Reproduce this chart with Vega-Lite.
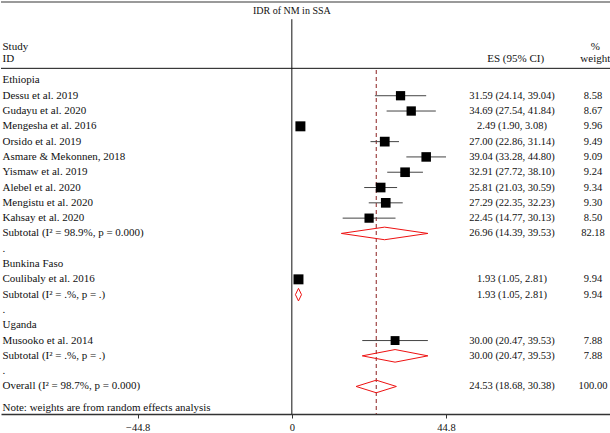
{
  "$schema": "https://vega.github.io/schema/vega-lite/v6.json",
  "width": 610,
  "height": 413,
  "autosize": {"type": "pad"},
  "padding": 0,
  "background": "white",
  "config": {
    "view": {"stroke": null},
    "font": "Liberation Serif",
    "text": {"font": "Liberation Serif", "color": "#111", "baseline": "middle"},
    "axisX": {"grid": false, "domainColor": "#333", "domainWidth": 1.5, "tickColor": "#333", "tickSize": 4, "labelFont": "Liberation Serif", "labelFontSize": 10.5, "labelColor": "#111", "labelPadding": 4, "labelFlush": false, "labelOverlap": false, "labelExpr": "datum.value == 0 ? '0' : format(datum.value, '.1f')"}
  },
  "datasets": {
    "rows": [
      {"row": 0, "label": "Ethiopia", "kind": "group"},
      {"row": 1, "label": "Dessu et al. 2019", "kind": "study", "est": 31.59, "lo": 24.14, "hi": 39.04, "weight": 8.58, "ci": "31.59 (24.14, 39.04)"},
      {"row": 2, "label": "Gudayu et al. 2020", "kind": "study", "est": 34.69, "lo": 27.54, "hi": 41.84, "weight": 8.67, "ci": "34.69 (27.54, 41.84)"},
      {"row": 3, "label": "Mengesha et al. 2016", "kind": "study", "est": 2.49, "lo": 1.90, "hi": 3.08, "weight": 9.96, "ci": "2.49 (1.90, 3.08)"},
      {"row": 4, "label": "Orsido et al. 2019", "kind": "study", "est": 27.00, "lo": 22.86, "hi": 31.14, "weight": 9.49, "ci": "27.00 (22.86, 31.14)"},
      {"row": 5, "label": "Asmare & Mekonnen, 2018", "kind": "study", "est": 39.04, "lo": 33.28, "hi": 44.80, "weight": 9.09, "ci": "39.04 (33.28, 44.80)"},
      {"row": 6, "label": "Yismaw et al. 2019", "kind": "study", "est": 32.91, "lo": 27.72, "hi": 38.10, "weight": 9.24, "ci": "32.91 (27.72, 38.10)"},
      {"row": 7, "label": "Alebel et al. 2020", "kind": "study", "est": 25.81, "lo": 21.03, "hi": 30.59, "weight": 9.34, "ci": "25.81 (21.03, 30.59)"},
      {"row": 8, "label": "Mengistu et al. 2020", "kind": "study", "est": 27.29, "lo": 22.35, "hi": 32.23, "weight": 9.30, "ci": "27.29 (22.35, 32.23)"},
      {"row": 9, "label": "Kahsay et al. 2020", "kind": "study", "est": 22.45, "lo": 14.77, "hi": 30.13, "weight": 8.50, "ci": "22.45 (14.77, 30.13)"},
      {"row": 10, "label": "Subtotal (I² = 98.9%, p = 0.000)", "kind": "subtotal", "est": 26.96, "lo": 14.39, "hi": 39.53, "weight": 82.18, "ci": "26.96 (14.39, 39.53)"},
      {"row": 11, "label": ".", "kind": "sep"},
      {"row": 12, "label": "Bunkina Faso", "kind": "group"},
      {"row": 13, "label": "Coulibaly et al. 2016", "kind": "study", "est": 1.93, "lo": 1.05, "hi": 2.81, "weight": 9.94, "ci": "1.93 (1.05, 2.81)"},
      {"row": 14, "label": "Subtotal (I² = .%, p = .)", "kind": "subtotal", "est": 1.93, "lo": 1.05, "hi": 2.81, "weight": 9.94, "ci": "1.93 (1.05, 2.81)"},
      {"row": 15, "label": ".", "kind": "sep"},
      {"row": 16, "label": "Uganda", "kind": "group"},
      {"row": 17, "label": "Musooko et al. 2014", "kind": "study", "est": 30.00, "lo": 20.47, "hi": 39.53, "weight": 7.88, "ci": "30.00 (20.47, 39.53)"},
      {"row": 18, "label": "Subtotal (I² = .%, p = .)", "kind": "subtotal", "est": 30.00, "lo": 20.47, "hi": 39.53, "weight": 7.88, "ci": "30.00 (20.47, 39.53)"},
      {"row": 19, "label": ".", "kind": "sep"},
      {"row": 20, "label": "Overall (I² = 98.7%, p = 0.000)", "kind": "overall", "est": 24.53, "lo": 18.68, "hi": 30.38, "weight": 100.00, "ci": "24.53 (18.68, 30.38)"},
      {"row": 21, "label": "Note: weights are from random effects analysis", "kind": "note"}
    ],
    "diamonds": [
      {"grp": "eth", "row": 10, "ord": 1, "x": 14.39, "vpos": "m"},
      {"grp": "eth", "row": 10, "ord": 2, "x": 26.96, "vpos": "t"},
      {"grp": "eth", "row": 10, "ord": 3, "x": 39.53, "vpos": "m"},
      {"grp": "eth", "row": 10, "ord": 4, "x": 26.96, "vpos": "b"},
      {"grp": "eth", "row": 10, "ord": 5, "x": 14.39, "vpos": "m"},
      {"grp": "bf", "row": 14, "ord": 1, "x": 1.05, "vpos": "m"},
      {"grp": "bf", "row": 14, "ord": 2, "x": 1.93, "vpos": "t"},
      {"grp": "bf", "row": 14, "ord": 3, "x": 2.81, "vpos": "m"},
      {"grp": "bf", "row": 14, "ord": 4, "x": 1.93, "vpos": "b"},
      {"grp": "bf", "row": 14, "ord": 5, "x": 1.05, "vpos": "m"},
      {"grp": "ug", "row": 18, "ord": 1, "x": 20.47, "vpos": "m"},
      {"grp": "ug", "row": 18, "ord": 2, "x": 30.00, "vpos": "t"},
      {"grp": "ug", "row": 18, "ord": 3, "x": 39.53, "vpos": "m"},
      {"grp": "ug", "row": 18, "ord": 4, "x": 30.00, "vpos": "b"},
      {"grp": "ug", "row": 18, "ord": 5, "x": 20.47, "vpos": "m"},
      {"grp": "all", "row": 20, "ord": 1, "x": 18.68, "vpos": "m"},
      {"grp": "all", "row": 20, "ord": 2, "x": 24.53, "vpos": "t"},
      {"grp": "all", "row": 20, "ord": 3, "x": 30.38, "vpos": "m"},
      {"grp": "all", "row": 20, "ord": 4, "x": 24.53, "vpos": "b"},
      {"grp": "all", "row": 20, "ord": 5, "x": 18.68, "vpos": "m"}
    ],
    "headers": [
      {"row": -4, "text": "IDR of NM in SSA", "col": "title"},
      {"row": -2, "text": "Study", "col": "left"},
      {"row": -1, "text": "ID", "col": "left"},
      {"row": -1, "text": "ES (95% CI)", "col": "es"},
      {"row": -2, "text": "%", "col": "wt"},
      {"row": -1, "text": "weight", "col": "wt"}
    ]
  },
  "data": {"name": "rows"},
  "encoding": {
    "y": {"field": "row", "type": "ordinal", "axis": null,
      "scale": {"type": "band", "domain": [-4,-3,-2,-1,0,1,2,3,4,5,6,7,8,9,10,11,12,13,14,15,16,17,18,19,20,21], "paddingInner": 0, "paddingOuter": 0.495, "align": 0.697}}
  },
  "layer": [
    {
      "mark": {"type": "rule", "color": "#9a9a9a", "strokeWidth": 2},
      "transform": [{"filter": "datum.row == 0"}],
      "encoding": {"y": {"datum": -4, "type": "ordinal", "bandPosition": -0.625}}
    },
    {
      "mark": {"type": "rule", "color": "#111", "strokeWidth": 1},
      "transform": [{"filter": "datum.row == 0"}],
      "encoding": {"y": {"datum": -1, "type": "ordinal", "bandPosition": 0.71}}
    },
    {
      "mark": {"type": "rule", "color": "#111", "strokeWidth": 1},
      "transform": [{"filter": "datum.row == 0"}],
      "encoding": {
        "x": {"datum": 0, "type": "quantitative", "scale": {"domain": [-84.52, 92.75], "nice": false, "zero": false}, "axis": {"title": null, "values": [-44.8, 0, 44.8]}},
        "y": {"datum": -4, "type": "ordinal", "bandPosition": 0.5},
        "y2": {"datum": 21, "bandPosition": 1.3}
      }
    },
    {
      "mark": {"type": "rule", "color": "#8b2020", "strokeWidth": 1, "strokeDash": [4, 3]},
      "transform": [{"filter": "datum.kind == 'overall'"}],
      "encoding": {
        "x": {"field": "est", "type": "quantitative", "scale": {"domain": [-84.52, 92.75], "nice": false, "zero": false}, "axis": {"title": null, "values": [-44.8, 0, 44.8]}},
        "y": {"datum": -1, "type": "ordinal", "bandPosition": 0.82},
        "y2": {"datum": 21, "bandPosition": 1.3}
      }
    },
    {
      "mark": {"type": "rule", "color": "#444", "strokeWidth": 1},
      "transform": [{"filter": "datum.kind == 'study'"}],
      "encoding": {
        "x": {"field": "lo", "type": "quantitative", "scale": {"domain": [-84.52, 92.75], "nice": false, "zero": false}, "axis": {"title": null, "values": [-44.8, 0, 44.8]}},
        "x2": {"field": "hi"}
      }
    },
    {
      "mark": {"type": "point", "shape": "square", "filled": true, "color": "#000", "opacity": 1, "strokeWidth": 0},
      "transform": [{"filter": "datum.kind == 'study'"}],
      "encoding": {
        "x": {"field": "est", "type": "quantitative", "scale": {"domain": [-84.52, 92.75], "nice": false, "zero": false}, "axis": {"title": null, "values": [-44.8, 0, 44.8]}},
        "size": {"field": "weight", "type": "quantitative", "legend": null, "scale": {"domain": [0, 10], "range": [0, 100], "zero": true}}
      }
    },
    {
      "data": {"name": "diamonds"},
      "mark": {"type": "line", "color": "#ee1111", "strokeWidth": 1},
      "encoding": {
        "x": {"field": "x", "type": "quantitative", "scale": {"domain": [-84.52, 92.75], "nice": false, "zero": false}, "axis": {"title": null, "values": [-44.8, 0, 44.8]}},
        "yOffset": {"field": "vpos", "type": "nominal", "scale": {"type": "point", "domain": ["t", "m", "b"], "padding": 0.215}},
        "order": {"field": "ord", "type": "quantitative"},
        "detail": {"field": "grp", "type": "nominal"}
      }
    },
    {
      "mark": {"type": "text", "align": "left", "fontSize": 11},
      "transform": [{"filter": "datum.kind != 'note'"}],
      "encoding": {
        "x": {"datum": -84.09, "type": "quantitative", "scale": {"domain": [-84.52, 92.75], "nice": false, "zero": false}, "axis": {"title": null, "values": [-44.8, 0, 44.8]}},
        "text": {"field": "label"}
      }
    },
    {
      "mark": {"type": "text", "align": "left", "fontSize": 11, "dy": 6},
      "transform": [{"filter": "datum.kind == 'note'"}],
      "encoding": {
        "x": {"datum": -84.09, "type": "quantitative", "scale": {"domain": [-84.52, 92.75], "nice": false, "zero": false}, "axis": {"title": null, "values": [-44.8, 0, 44.8]}},
        "text": {"field": "label"}
      }
    },
    {
      "mark": {"type": "text", "align": "center", "fontSize": 10.5},
      "transform": [{"filter": "isValid(datum.ci)"}],
      "encoding": {
        "x": {"datum": 63.98, "type": "quantitative", "scale": {"domain": [-84.52, 92.75], "nice": false, "zero": false}, "axis": {"title": null, "values": [-44.8, 0, 44.8]}},
        "text": {"field": "ci"}
      }
    },
    {
      "mark": {"type": "text", "align": "center", "fontSize": 10.5},
      "transform": [{"filter": "isValid(datum.weight)"}],
      "encoding": {
        "x": {"datum": 87.52, "type": "quantitative", "scale": {"domain": [-84.52, 92.75], "nice": false, "zero": false}, "axis": {"title": null, "values": [-44.8, 0, 44.8]}},
        "text": {"field": "weight", "type": "quantitative", "format": ".2f"}
      }
    },
    {
      "data": {"name": "headers"},
      "mark": {"type": "text", "align": "center", "fontSize": 10, "dy": -8.2},
      "transform": [{"filter": "datum.col == 'title'"}],
      "encoding": {
        "x": {"datum": 0, "type": "quantitative", "scale": {"domain": [-84.52, 92.75], "nice": false, "zero": false}, "axis": {"title": null, "values": [-44.8, 0, 44.8]}},
        "text": {"field": "text"}
      }
    },
    {
      "data": {"name": "headers"},
      "mark": {"type": "text", "align": "left", "fontSize": 11, "dy": -3.3},
      "transform": [{"filter": "datum.col == 'left' && datum.row == -2"}],
      "encoding": {
        "x": {"datum": -84.09, "type": "quantitative", "scale": {"domain": [-84.52, 92.75], "nice": false, "zero": false}, "axis": {"title": null, "values": [-44.8, 0, 44.8]}},
        "text": {"field": "text"}
      }
    },
    {
      "data": {"name": "headers"},
      "mark": {"type": "text", "align": "left", "fontSize": 11, "dy": -6.5},
      "transform": [{"filter": "datum.col == 'left' && datum.row == -1"}],
      "encoding": {
        "x": {"datum": -84.09, "type": "quantitative", "scale": {"domain": [-84.52, 92.75], "nice": false, "zero": false}, "axis": {"title": null, "values": [-44.8, 0, 44.8]}},
        "text": {"field": "text"}
      }
    },
    {
      "data": {"name": "headers"},
      "mark": {"type": "text", "align": "center", "fontSize": 11, "dy": -6.5},
      "transform": [{"filter": "datum.col == 'es'"}],
      "encoding": {
        "x": {"datum": 65.05, "type": "quantitative", "scale": {"domain": [-84.52, 92.75], "nice": false, "zero": false}, "axis": {"title": null, "values": [-44.8, 0, 44.8]}},
        "text": {"field": "text"}
      }
    },
    {
      "data": {"name": "headers"},
      "mark": {"type": "text", "align": "center", "fontSize": 11, "dy": -3.3},
      "transform": [{"filter": "datum.col == 'wt' && datum.row == -2"}],
      "encoding": {
        "x": {"datum": 88.2, "type": "quantitative", "scale": {"domain": [-84.52, 92.75], "nice": false, "zero": false}, "axis": {"title": null, "values": [-44.8, 0, 44.8]}},
        "text": {"field": "text"}
      }
    },
    {
      "data": {"name": "headers"},
      "mark": {"type": "text", "align": "center", "fontSize": 11, "dy": -6.5},
      "transform": [{"filter": "datum.col == 'wt' && datum.row == -1"}],
      "encoding": {
        "x": {"datum": 88.2, "type": "quantitative", "scale": {"domain": [-84.52, 92.75], "nice": false, "zero": false}, "axis": {"title": null, "values": [-44.8, 0, 44.8]}},
        "text": {"field": "text"}
      }
    }
  ]
}
